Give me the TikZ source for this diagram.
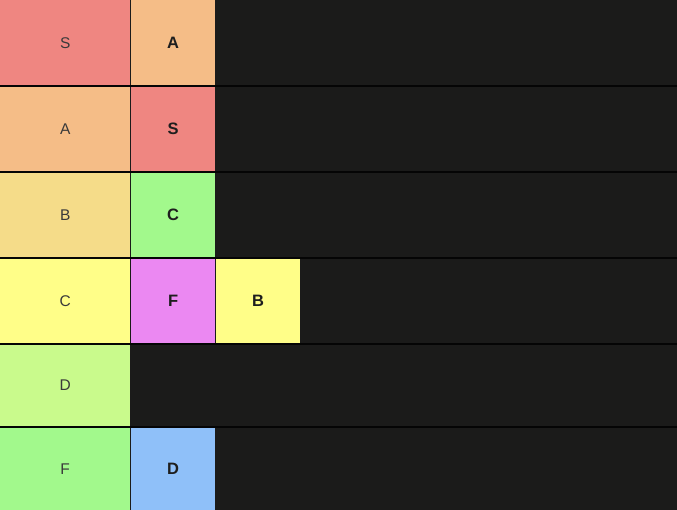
\documentclass[tikz,border=0pt]{standalone}
\usepackage{fontspec}
\setmainfont{Liberation Sans}
\definecolor{bgdark}{HTML}{1B1B1A}
\definecolor{sepcol}{HTML}{050505}
\definecolor{tierS}{HTML}{EF8681}
\definecolor{tierA}{HTML}{F5BD87}
\definecolor{tierB}{HTML}{F5DC89}
\definecolor{tierC}{HTML}{FFFE88}
\definecolor{tierD}{HTML}{C9FA8C}
\definecolor{tierF}{HTML}{A2F98C}
\definecolor{itemF}{HTML}{EB88F2}
\definecolor{itemD}{HTML}{8FC0F9}
\definecolor{txtcol}{HTML}{3A3A3A}
\definecolor{itemtxt}{HTML}{1E1E1E}
\tikzset{
  x=1pt, y=-1pt,
  tierlabel/.style={rectangle, anchor=north west, inner sep=0pt, minimum width=130pt, text=txtcol, font=\fontsize{15.5}{18}\selectfont},
  tieritem/.style={rectangle, anchor=north west, inner sep=0pt, minimum width=84pt, text=itemtxt, font=\bfseries\fontsize{16.5}{19}\selectfont},
}
\begin{document}
\begin{tikzpicture}
\useasboundingbox (0,0) rectangle (677,510);
\fill[bgdark] (0,0) rectangle (677,510);
% separators
\foreach \y in {86,172,258,344,426.5} {
  \fill[sepcol] (0,\y-1) rectangle (677,\y+1);
}
% tier labels
\node[tierlabel, fill=tierS, minimum height=85pt] (lS) at (0,0) {S};
\node[tierlabel, fill=tierA, minimum height=84pt] (lA) at (0,87) {A};
\node[tierlabel, fill=tierB, minimum height=84pt] (lB) at (0,173) {B};
\node[tierlabel, fill=tierC, minimum height=84pt] (lC) at (0,259) {C};
\node[tierlabel, fill=tierD, minimum height=80.5pt] (lD) at (0,345) {D};
\node[tierlabel, fill=tierF, minimum height=82.5pt] (lF) at (0,427.5) {F};
% items
\node[tieritem, fill=tierA, minimum height=85pt] (iA) at (131,0) {A};
\node[tieritem, fill=tierS, minimum height=84pt] (iS) at (131,87) {S};
\node[tieritem, fill=tierF, minimum height=84pt] (iC) at (131,173) {C};
\node[tieritem, fill=itemF, minimum height=84pt] (iF) at (131,259) {F};
\node[tieritem, fill=tierC, minimum height=84pt] (iB) at (216,259) {B};
\node[tieritem, fill=itemD, minimum height=82.5pt] (iD) at (131,427.5) {D};
\end{tikzpicture}
\end{document}
